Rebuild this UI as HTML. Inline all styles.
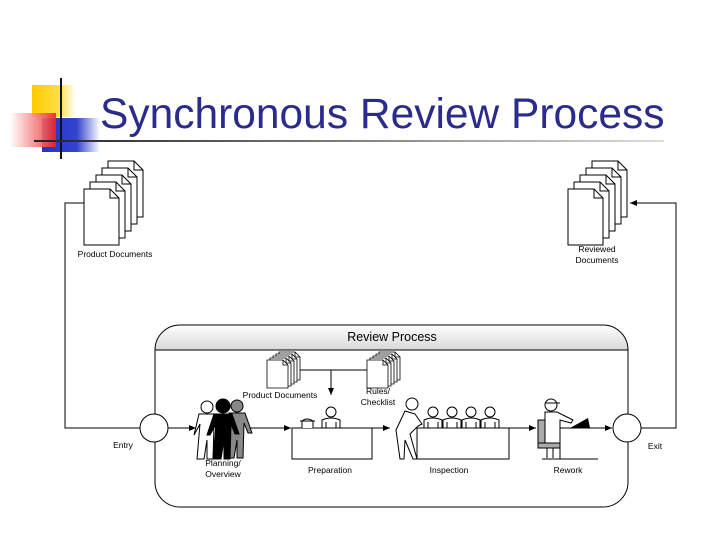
<!DOCTYPE html>
<html><head><meta charset="utf-8"><style>
html,body{margin:0;padding:0;background:#fff;}
svg{display:block;font-family:"Liberation Sans",sans-serif;}
</style></head><body>
<svg width="720" height="540" viewBox="0 0 720 540" xmlns="http://www.w3.org/2000/svg">
<defs>
<linearGradient id="gb" x1="0" x2="1"><stop offset="0" stop-color="#2233cc"/><stop offset="0.6" stop-color="#3344cc"/><stop offset="1" stop-color="#fff"/></linearGradient>
<linearGradient id="gr" x1="1" x2="0"><stop offset="0" stop-color="#ee2222"/><stop offset="1" stop-color="#fff"/></linearGradient>
<linearGradient id="gy" x1="0" x2="1"><stop offset="0" stop-color="#ffcc00"/><stop offset="0.6" stop-color="#ffdd44"/><stop offset="1" stop-color="#fff"/></linearGradient>
<linearGradient id="gl" x1="0" x2="1"><stop offset="0" stop-color="#222"/><stop offset="1" stop-color="#ddd"/></linearGradient>
<linearGradient id="gh" x1="0" y1="0" x2="0" y2="1"><stop offset="0" stop-color="#fff"/><stop offset="1" stop-color="#d8d8d8"/></linearGradient>
<g id="doc"><path d="M0,0 H26 L35,9 V56 H0 Z" fill="#fff" stroke="#000" stroke-width="1"/><path d="M26,0 V9 H35" fill="none" stroke="#000"/></g>
<g id="sdoc"><path d="M0,0 H16 L21,5 V28 H0 Z" fill="#fff" stroke="#000" stroke-width="0.8"/><path d="M16,0 V5 H21" fill="none" stroke="#000" stroke-width="0.8"/></g>
<g id="sit"><circle cx="9" cy="-16" r="5" fill="#fff" stroke="#000"/><path d="M0,0 V-8 Q9,-12 18,-8 V0" fill="#fff" stroke="#000"/><path d="M4,0 V-6 M14,0 V-6" stroke="#000"/></g>
<marker id="ar" markerWidth="8" markerHeight="8" refX="7" refY="3" orient="auto"><path d="M0,0 L7,3 L0,6 Z" fill="#000"/></marker>
</defs>

<rect x="32" y="85" width="44" height="32" fill="url(#gy)"/>
<rect x="42" y="118" width="58" height="34" fill="url(#gb)"/>
<rect x="10" y="113" width="46" height="34" fill="url(#gr)" opacity="0.9"/>
<line x1="61" y1="78" x2="61" y2="159" stroke="#111" stroke-width="2"/>
<rect x="34" y="140" width="630" height="2" fill="url(#gl)"/>
<text x="100" y="128" font-size="42.5" fill="#2b2b8c">Synchronous Review Process</text>

<use href="#doc" x="108" y="161"/><use href="#doc" x="102" y="168"/><use href="#doc" x="96" y="175"/><use href="#doc" x="90" y="182"/><use href="#doc" x="84" y="189"/>
<text x="115" y="257" font-size="8.5" text-anchor="middle">Product Documents</text>
<use href="#doc" x="592" y="161"/><use href="#doc" x="586" y="168"/><use href="#doc" x="580" y="175"/><use href="#doc" x="574" y="182"/><use href="#doc" x="568" y="189"/>
<text x="597" y="252" font-size="8.5" text-anchor="middle">Reviewed</text>
<text x="597" y="263" font-size="8.5" text-anchor="middle">Documents</text>

<path d="M84,203 H65 V428 H140" fill="none" stroke="#000"/>
<path d="M641,428 H676 V203 H630" fill="none" stroke="#000" marker-end="url(#ar)"/>

<path d="M180,325 H603 Q628,325 628,350 H155 Q155,325 180,325 Z" fill="url(#gh)"/>
<rect x="155" y="325" width="473" height="182" rx="25" fill="none" stroke="#000"/>
<line x1="155" y1="350" x2="628" y2="350" stroke="#000"/>
<text x="392" y="341" font-size="12.5" text-anchor="middle">Review Process</text>

<circle cx="154" cy="428" r="14" fill="#fff" stroke="#000"/>
<circle cx="627" cy="428" r="14" fill="#fff" stroke="#000"/>
<text x="123" y="448" font-size="8.5" text-anchor="middle">Entry</text>
<text x="655" y="449" font-size="8.5" text-anchor="middle">Exit</text>

<use href="#sdoc" x="279" y="352"/><use href="#sdoc" x="276" y="354"/><use href="#sdoc" x="273" y="356"/><use href="#sdoc" x="270" y="358"/><use href="#sdoc" x="267" y="360"/>
<use href="#sdoc" x="379" y="352"/><use href="#sdoc" x="376" y="354"/><use href="#sdoc" x="373" y="356"/><use href="#sdoc" x="370" y="358"/><use href="#sdoc" x="367" y="360"/>
<path d="M300,370 H367" stroke="#000"/>
<path d="M331,370 V395" stroke="#000" marker-end="url(#ar)"/>
<text x="280" y="398" font-size="8.5" text-anchor="middle">Product Documents</text>
<text x="378" y="394" font-size="8.5" text-anchor="middle">Rules/</text>
<text x="378" y="405" font-size="8.5" text-anchor="middle">Checklist</text>

<path d="M168,428 H196" stroke="#000" marker-end="url(#ar)"/>
<path d="M250,428 H291" stroke="#000" marker-end="url(#ar)"/>
<path d="M372,428 H390" stroke="#000" marker-end="url(#ar)"/>
<path d="M509,428 H536" stroke="#000" marker-end="url(#ar)"/>
<path d="M598,428 H612" stroke="#000" marker-end="url(#ar)"/>

<g stroke="#000">
<circle cx="207" cy="407" r="6" fill="#fff"/>
<path d="M199,414 H215 L222,434 H218 L214,424 L213,459 H207 V440 L204,459 H197 L200,424 L194,435 Z" fill="#fff"/>
<circle cx="237" cy="406" r="6" fill="#888"/>
<path d="M229,413 H245 L252,433 H248 L244,423 L243,458 H237 V440 L234,458 H227 L230,423 Z" fill="#888"/>
<circle cx="223" cy="406" r="7" fill="#000"/>
<path d="M214,414 H232 L239,434 H235 L231,424 L230,459 H224 V440 L221,459 H213 L216,424 L210,435 H207 Z" fill="#000"/>
</g>
<text x="223" y="466" font-size="8.5" text-anchor="middle">Planning/</text>
<text x="223" y="477" font-size="8.5" text-anchor="middle">Overview</text>

<use href="#sit" x="322" y="428"/>
<rect x="292" y="428" width="80" height="31" fill="#fff" stroke="#000"/>
<path d="M302,428 V421 Q307,417 313,421 V428 M300,421 H315" fill="#fff" stroke="#000"/>
<text x="330" y="473" font-size="8.5" text-anchor="middle">Preparation</text>

<use href="#sit" x="424" y="428"/><use href="#sit" x="443" y="428"/><use href="#sit" x="462" y="428"/><use href="#sit" x="481" y="428"/>
<circle cx="412" cy="404" r="6" fill="#fff" stroke="#000"/>
<path d="M405,411 L396,430 L400,459 H404 L405,440 L413,459 H417 L410,434 L418,426 L422,424 L415,414 Z" fill="#fff" stroke="#000"/>
<rect x="417" y="428" width="92" height="31" fill="#fff" stroke="#000"/>
<text x="449" y="473" font-size="8.5" text-anchor="middle">Inspection</text>

<rect x="538" y="420" width="7" height="24" fill="#aaa" stroke="#000"/>
<rect x="538" y="443" width="22" height="5" fill="#aaa" stroke="#000"/>
<path d="M547,448 V458 M553,448 V458 M542,459 H560" stroke="#000"/>
<circle cx="551" cy="405" r="6" fill="#fff" stroke="#000"/>
<path d="M545,403 H560" stroke="#000"/>
<path d="M545,412 H557 L573,420 L571,423 L560,420 V443 H545 Z" fill="#fff" stroke="#000"/>
<path d="M570,428 L588,418 L590,428 Z" fill="#000"/>
<path d="M560,459 V428 H598 M560,459 H598" fill="none" stroke="#000"/>
<text x="568" y="473" font-size="8.5" text-anchor="middle">Rework</text>
</svg>
</body></html>
